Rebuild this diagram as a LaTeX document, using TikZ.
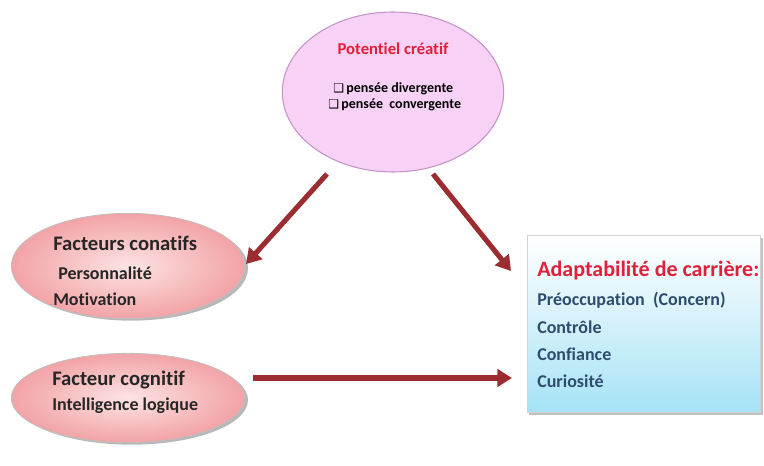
\documentclass[tikz,border=0pt]{standalone}
\usepackage{fontspec}
\setmainfont{Carlito}[Ligatures=CommonOff]
\newfontfamily\symfont{DejaVu Sans}
\usetikzlibrary{shapes.geometric,arrows.meta,shadows,shadings}
\definecolor{arrowred}{HTML}{9B2D30}
\definecolor{titlered}{HTML}{E0203A}
\definecolor{boxtext}{HTML}{2E4D6E}
\definecolor{pinkfill}{HTML}{F8D2F6}
\definecolor{pinkline}{HTML}{C493C8}
\definecolor{salmon}{HTML}{F2A3A6}
\definecolor{lightsalmon}{HTML}{FDE3E3}
\definecolor{cyanbot}{HTML}{A6E3F6}
\tikzset{
  conn/.style={draw=arrowred, line width=3.8pt, -{Triangle[length=11pt,width=13pt]}},
  oval/.style={ellipse, draw=gray!50, line width=0.6pt, inner color=lightsalmon, outer color=salmon,
    drop shadow={shadow xshift=2.5pt, shadow yshift=-1.5pt, fill=gray!70, opacity=0.8}},
  ovaltitle/.style={font=\bfseries\fontsize{15.5}{18}\selectfont, text=black!85, anchor=west, inner sep=0pt},
  ovaltext/.style={font=\bfseries\fontsize{13.5}{16}\selectfont, text=black!85, anchor=west, inner sep=0pt},
  boxitem/.style={font=\bfseries\fontsize{13.5}{16}\selectfont, text=boxtext, anchor=west, inner sep=0pt},
  potitem/.style={font=\bfseries\fontsize{10.5}{12}\selectfont, anchor=west, inner sep=0pt},
}
\newcommand{\chkbox}{{\symfont\fontsize{9}{10}\selectfont ❑}}
\begin{document}
\begin{tikzpicture}[x=0.75pt,y=-0.75pt]
\useasboundingbox (0,0) rectangle (764,466);
% top ellipse
\node[ellipse, draw=pinkline, line width=0.8pt, fill=pinkfill, minimum width=166pt, minimum height=120pt] (pot) at (393,92) {};
\node[font=\bfseries\fontsize{12.5}{14}\selectfont, text=titlered] (potT) at (393,49) {Potentiel créatif};
\node[potitem] (p1) at (333,89) {\chkbox\,pensée divergente};
\node[potitem] (p2) at (328,105) {\chkbox\,pensée\ \ convergente};
% conatifs
\node[oval, minimum width=175pt, minimum height=79pt] (con) at (128,266) {};
\node[ovaltitle] (conT) at (53,243) {Facteurs conatifs};
\node[ovaltext] (con1) at (58,273) {Personnalité};
\node[ovaltext] (con2) at (53,299) {Motivation};
% cognitif
\node[oval, minimum width=175pt, minimum height=67pt] (cog) at (128,398) {};
\node[ovaltitle] (cogT) at (52,380) {Facteur cognitif};
\node[ovaltext] (cog1) at (52,406) {Intelligence logique};
% box
\node[rectangle, draw=gray!35, line width=0.5pt, top color=white, bottom color=cyanbot, minimum width=175pt, minimum height=133pt, anchor=north west,
  drop shadow={shadow xshift=1.5pt, shadow yshift=-2pt, fill=gray!60, opacity=0.8}] (box) at (527,235) {};
\node[font=\bfseries\fontsize{16.5}{19}\selectfont, text=titlered, anchor=west, inner sep=0pt] (boxT) at (537,271) {Adaptabilité de carrière:};
\node[boxitem] (b1) at (537,300) {Préoccupation\ \ (Concern)};
\node[boxitem] (b2) at (537,327) {Contrôle};
\node[boxitem] (b3) at (537,354) {Confiance};
\node[boxitem] (b4) at (537,381) {Curiosité};
% arrows
\coordinate (a1s) at (327,174);
\coordinate (a1e) at (246,264);
\coordinate (a2s) at (433,174);
\coordinate (a2e) at (511,271);
\coordinate (a3s) at (253,378);
\coordinate (a3e) at (512,378);
\draw[conn] (a1s) -- (a1e);
\draw[conn] (a2s) -- (a2e);
\draw[conn] (a3s) -- (a3e);
\end{tikzpicture}
\end{document}
